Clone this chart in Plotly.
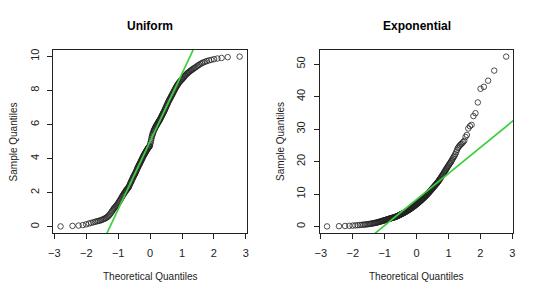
import plotly.graph_objects as go
from statistics import NormalDist
import numpy as np

# Sorted sample values (n = 200 each)
uniform_sample = [
    0.02, 0.05, 0.07, 0.10, 0.14, 0.19, 0.23, 0.26, 0.29, 0.32,
    0.34, 0.36, 0.39, 0.42, 0.45, 0.48, 0.51, 0.55, 0.60, 0.65,
    0.71, 0.78, 0.85, 0.92, 1.00, 1.06, 1.11, 1.16, 1.21, 1.26,
    1.31, 1.37, 1.43, 1.49, 1.55, 1.61, 1.67, 1.73, 1.79, 1.85,
    1.90, 1.95, 2.00, 2.05, 2.10, 2.14, 2.18, 2.22, 2.26, 2.30,
    2.33, 2.40, 2.48, 2.54, 2.60, 2.66, 2.72, 2.78, 2.84, 2.90,
    2.95, 3.00, 3.05, 3.10, 3.15, 3.21, 3.27, 3.33, 3.39, 3.45,
    3.50, 3.55, 3.60, 3.65, 3.70, 3.75, 3.80, 3.85, 3.90, 3.95,
    4.00, 4.05, 4.10, 4.15, 4.20, 4.24, 4.28, 4.32, 4.36, 4.40,
    4.44, 4.48, 4.52, 4.56, 4.60, 4.63, 4.66, 4.69, 4.72, 4.75,
    4.86, 4.97, 5.08, 5.19, 5.30, 5.38, 5.45, 5.52, 5.59, 5.65,
    5.70, 5.75, 5.80, 5.85, 5.90, 5.94, 5.98, 6.02, 6.06, 6.10,
    6.14, 6.18, 6.22, 6.26, 6.30, 6.35, 6.40, 6.45, 6.50, 6.55,
    6.60, 6.65, 6.70, 6.75, 6.80, 6.86, 6.92, 6.98, 7.04, 7.10,
    7.16, 7.22, 7.28, 7.34, 7.40, 7.45, 7.50, 7.55, 7.60, 7.68,
    7.72, 7.77, 7.83, 7.89, 7.95, 8.01, 8.07, 8.13, 8.19, 8.25,
    8.30, 8.35, 8.40, 8.45, 8.50, 8.54, 8.58, 8.62, 8.66, 8.70,
    8.75, 8.80, 8.85, 8.90, 8.95, 8.99, 9.03, 9.07, 9.11, 9.15,
    9.19, 9.23, 9.27, 9.31, 9.35, 9.40, 9.45, 9.50, 9.55, 9.60,
    9.64, 9.68, 9.72, 9.76, 9.79, 9.83, 9.87, 9.90, 9.95, 9.98,
]

exponential_sample = [
    0.05, 0.12, 0.18, 0.24, 0.30, 0.36, 0.42, 0.48, 0.53, 0.58,
    0.63, 0.68, 0.73, 0.78, 0.84, 0.90, 0.96, 1.02, 1.08, 1.14,
    1.20, 1.27, 1.34, 1.41, 1.48, 1.55, 1.62, 1.69, 1.76, 1.83,
    1.88, 1.94, 2.00, 2.06, 2.12, 2.18, 2.24, 2.30, 2.36, 2.42,
    2.47, 2.52, 2.57, 2.62, 2.67, 2.72, 2.77, 2.82, 2.87, 2.92,
    2.97, 3.03, 3.09, 3.15, 3.21, 3.28, 3.35, 3.42, 3.49, 3.56,
    3.63, 3.70, 3.77, 3.84, 3.91, 3.98, 4.05, 4.12, 4.19, 4.26,
    4.33, 4.41, 4.49, 4.57, 4.65, 4.73, 4.81, 4.89, 4.97, 5.05,
    5.13, 5.21, 5.29, 5.37, 5.45, 5.54, 5.63, 5.72, 5.81, 5.90,
    5.99, 6.08, 6.17, 6.26, 6.35, 6.45, 6.55, 6.65, 6.75, 6.85,
    6.95, 7.05, 7.15, 7.25, 7.35, 7.46, 7.57, 7.68, 7.79, 7.90,
    8.01, 8.12, 8.23, 8.34, 8.45, 8.57, 8.69, 8.81, 8.93, 9.05,
    9.18, 9.31, 9.44, 9.57, 9.70, 9.84, 9.98, 10.12, 10.26, 10.40,
    10.55, 10.70, 10.85, 11.00, 11.15, 11.31, 11.47, 11.63, 11.79, 11.95,
    12.12, 12.29, 12.46, 12.63, 12.80, 12.98, 13.16, 13.34, 13.52, 13.70,
    13.92, 14.15, 14.38, 14.61, 14.84, 15.10, 15.36, 15.62, 15.88, 16.15,
    16.45, 16.75, 17.05, 17.35, 17.65, 17.95, 18.25, 18.55, 18.85, 19.20,
    19.50, 19.80, 20.20, 20.60, 21.00, 21.40, 21.80, 22.30, 22.90, 23.60,
    24.20, 24.60, 25.00, 25.30, 25.60, 26.00, 26.40, 27.60, 28.20, 30.20,
    30.90, 31.30, 34.00, 34.90, 38.20, 42.40, 43.00, 44.90, 48.00, 52.30,
]

panel_titles = ["Uniform", "Exponential"]
x_title = "Theoretical Quantiles"
y_title = "Sample Quantiles"
x_ticks = [-3, -2, -1, 0, 1, 2, 3]
y_ticks_left = [0, 2, 4, 6, 8, 10]
y_ticks_right = [0, 10, 20, 30, 40, 50]

W, H = 540, 295
nd = NormalDist()
FONT = "Liberation Sans, Arial"


def theo_quantiles(n):
    # R's ppoints for n > 10: (i - 0.5) / n
    return np.array([nd.inv_cdf((i - 0.5) / n) for i in range(1, n + 1)])


def qqline(y):
    q1, q3 = np.quantile(y, [0.25, 0.75])
    z1, z3 = nd.inv_cdf(0.25), nd.inv_cdf(0.75)
    slope = (q3 - q1) / (z3 - z1)
    inter = q1 - slope * z1
    return slope, inter


def pad_range(v):
    lo, hi = float(np.min(v)), float(np.max(v))
    d = (hi - lo) * 0.04
    return [lo - d, hi + d]


fig = go.Figure()

x_domains = [[49 / W, 245 / W], [319 / W, 515 / W]]
y_domain = [1 - 233 / H, 1 - 49 / H]
samples = [np.array(uniform_sample), np.array(exponential_sample)]
yticks = [y_ticks_left, y_ticks_right]
line_color = "#3ecf3e"

annotations = []
for k, y in enumerate(samples):
    xq = theo_quantiles(len(y))
    xr = pad_range(xq)
    yr = pad_range(y)
    slope, inter = qqline(y)
    xa = "x" if k == 0 else "x2"
    ya = "y" if k == 0 else "y2"
    fig.add_trace(go.Scatter(
        x=xq, y=y, mode="markers", xaxis=xa, yaxis=ya,
        marker=dict(symbol="circle-open", size=5.5, color="#222",
                    line=dict(width=0.8, color="#222")),
        showlegend=False, hoverinfo="skip"))
    lx = np.array([xr[0] - 1, xr[1] + 1])
    fig.add_trace(go.Scatter(
        x=lx, y=inter + slope * lx, mode="lines", xaxis=xa, yaxis=ya,
        line=dict(color=line_color, width=1.7),
        showlegend=False, hoverinfo="skip"))

    axis_common = dict(showgrid=False, zeroline=False, showline=True,
                       linecolor="#222", linewidth=1, mirror=True,
                       ticks="outside", ticklen=5, tickcolor="#222",
                       tickfont=dict(family=FONT, size=11, color="#222"))
    fig.update_layout(**{
        ("xaxis" if k == 0 else "xaxis2"): dict(
            domain=x_domains[k], range=xr, tickvals=x_ticks,
            anchor=ya, ticklabelstandoff=5, **axis_common),
        ("yaxis" if k == 0 else "yaxis2"): dict(
            domain=y_domain, range=yr, tickvals=yticks[k], tickangle=-90,
            anchor=xa, ticklabelstandoff=4, **axis_common),
    })

    cx = (x_domains[k][0] + x_domains[k][1]) / 2
    annotations.append(dict(text="<b>%s</b>" % panel_titles[k], x=cx, y=1 - 25 / H,
                            xref="paper", yref="paper", showarrow=False,
                            xanchor="center", yanchor="middle",
                            font=dict(family=FONT, size=12, color="black")))
    annotations.append(dict(text=x_title, x=cx, y=1 - 276 / H,
                            xref="paper", yref="paper", showarrow=False,
                            xanchor="center", yanchor="middle",
                            font=dict(family=FONT, size=10, color="#222")))
    annotations.append(dict(text=y_title, x=(9 + 270 * k) / W, y=(y_domain[0] + y_domain[1]) / 2,
                            xref="paper", yref="paper", showarrow=False, textangle=-90,
                            xanchor="center", yanchor="middle",
                            font=dict(family=FONT, size=10, color="#222")))

fig.update_layout(width=W, height=H, margin=dict(l=0, r=0, t=0, b=0),
                  paper_bgcolor="white", plot_bgcolor="white",
                  annotations=annotations)

fig.write_html("out.html")
